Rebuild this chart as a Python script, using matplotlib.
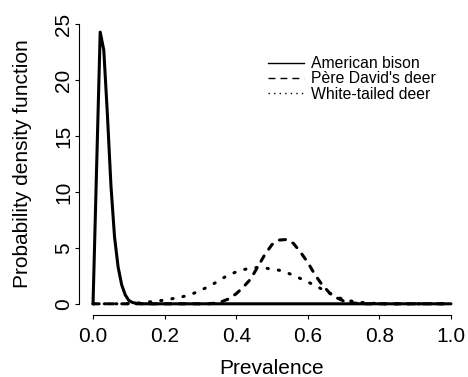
import matplotlib
matplotlib.use('Agg')
import matplotlib.pyplot as plt
from matplotlib.lines import Line2D

plt.rcParams['font.family'] = ['Liberation Sans', 'DejaVu Sans']

# American bison (solid)
bison_x = [0, 0.01, 0.02, 0.03, 0.04, 0.05, 0.06, 0.07, 0.08, 0.09, 0.10,
           0.11, 0.12, 0.13, 0.14, 1.0]
bison_y = [0, 12.2, 24.3, 22.7, 17.0, 10.6, 6.0, 3.3, 1.7, 0.8, 0.3,
           0.12, 0.05, 0.02, 0, 0]

# Pere David's deer (dashed)
pere_x = [0, 0.32, 0.34, 0.36, 0.38, 0.40, 0.42, 0.44, 0.46, 0.48, 0.50,
          0.52, 0.54, 0.56, 0.58, 0.60, 0.62, 0.64, 0.66, 0.68, 0.70,
          0.72, 0.74, 0.76, 1.0]
pere_y = [0, 0, 0.05, 0.2, 0.45, 0.9, 1.5, 2.2, 3.3, 4.4, 5.3,
          5.7, 5.75, 5.4, 4.6, 3.7, 2.6, 1.7, 1.0, 0.55, 0.25,
          0.1, 0.03, 0, 0]

# White-tailed deer (dotted)
white_x = [0, 0.08, 0.10, 0.12, 0.14, 0.16, 0.18, 0.20, 0.22, 0.24, 0.26,
           0.28, 0.30, 0.32, 0.34, 0.36, 0.38, 0.40, 0.42, 0.44, 0.46,
           0.48, 0.50, 0.52, 0.54, 0.56, 0.58, 0.60, 0.62, 0.64, 0.66,
           0.68, 0.70, 0.72, 0.74, 0.76, 0.78, 0.80, 0.82, 1.0]
white_y = [0, 0, 0.02, 0.05, 0.1, 0.18, 0.25, 0.33, 0.45, 0.55, 0.72,
           0.92, 1.2, 1.5, 1.85, 2.25, 2.6, 2.85, 3.05, 3.2, 3.25,
           3.2, 3.1, 3.0, 2.8, 2.55, 2.25, 1.95, 1.65, 1.3, 0.95,
           0.6, 0.4, 0.25, 0.15, 0.1, 0.05, 0.02, 0, 0]

labels = ['American bison', "Père David's deer", 'White-tailed deer']
x_ticks = [0.0, 0.2, 0.4, 0.6, 0.8, 1.0]
y_ticks = [0, 5, 10, 15, 20, 25]

fig = plt.figure(figsize=(4.68, 3.77), dpi=100)
ax = fig.add_axes([0.1682, 0.1645, 0.826, 0.8008])

lw = 2.2
ax.plot(bison_x, bison_y, color='black', lw=lw, solid_capstyle='round',
        solid_joinstyle='round')
ax.plot(pere_x, pere_y, color='black', lw=lw, dashes=(2.0, 2.7),
        dash_capstyle='round')
ax.plot(white_x, white_y, color='black', lw=lw, dashes=(0.4, 3.3),
        dash_capstyle='round')

ax.set_xlim(-0.04, 1.04)
ax.set_ylim(-1, 26)

# axes detached like in R
for s in ['top', 'right']:
    ax.spines[s].set_visible(False)
ax.spines['left'].set_bounds(0, 25)
ax.spines['bottom'].set_bounds(0, 1)
ax.spines['left'].set_linewidth(0.8)
ax.spines['bottom'].set_linewidth(0.8)

ax.set_xticks(x_ticks)
ax.set_xticklabels(['%.1f' % v for v in x_ticks])
ax.set_yticks(y_ticks)
ax.set_yticklabels([str(v) for v in y_ticks], rotation=90, va='center')
ax.tick_params(axis='x', length=3, width=0.8, pad=5.5, labelsize=15)
ax.tick_params(axis='y', length=3, width=0.8, pad=1.2, labelsize=15)

ax.set_xlabel('Prevalence', fontsize=15)
ax.set_ylabel('Probability density function', fontsize=15)
ax.xaxis.set_label_coords(0.5, -0.145)
ax.yaxis.set_label_coords(-0.121, 0.5)

handles = [
    Line2D([], [], color='black', lw=1.0),
    Line2D([], [], color='black', lw=1.0, dashes=(5, 3.6)),
    Line2D([], [], color='black', lw=1.0, dashes=(1, 3)),
]
ax.legend(handles, labels, loc='upper left', frameon=False, fontsize=11.3,
          handlelength=2.3, handletextpad=0.45, labelspacing=0.02,
          borderpad=0, borderaxespad=0,
          bbox_to_anchor=(268 / 468, 1 - 56 / 377),
          bbox_transform=fig.transFigure)

fig.savefig('out.png', dpi=100)
